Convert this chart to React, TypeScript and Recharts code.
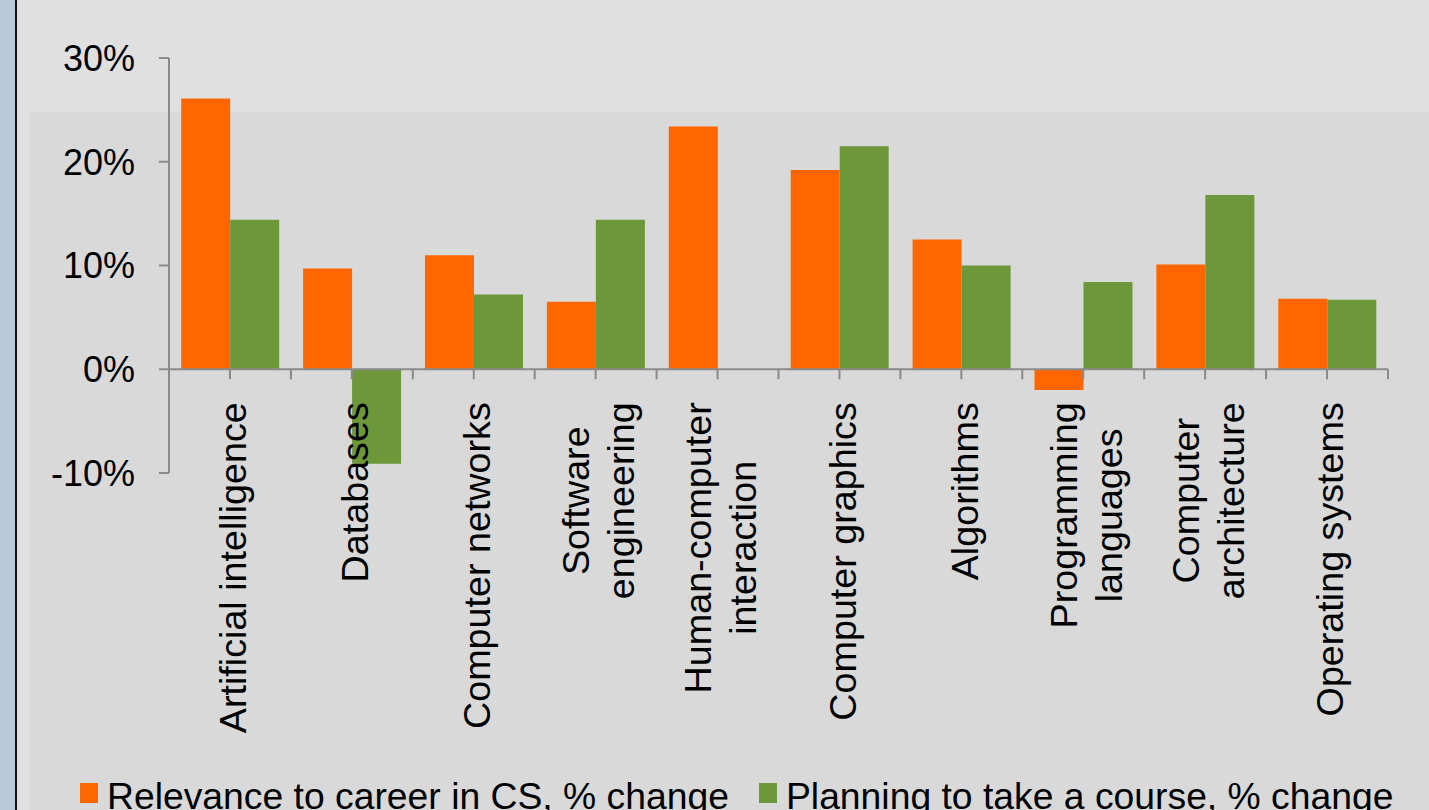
import { BarChart, Bar, XAxis, YAxis, ReferenceLine, Legend } from 'recharts'

const categories = [
  'Artificial intelligence',
  'Databases',
  'Computer networks',
  'Software\nengineering',
  'Human-computer\ninteraction',
  'Computer graphics',
  'Algorithms',
  'Programming\nlanguages',
  'Computer\narchitecture',
  'Operating systems',
]
const relevance = [26.1, 9.7, 11.0, 6.5, 23.4, 19.2, 12.5, -2.0, 10.1, 6.8]
const planning = [14.4, -9.1, 7.2, 14.4, null, 21.5, 10.0, 8.4, 16.8, 6.7]
const yTicks = [-10, 0, 10, 20, 30]
const seriesNames = ['Relevance to career in CS, % change', 'Planning to take a course, % change']

const COLORS = ['#ff6600', '#6c983a']
const AXIS = '#8a8a8a'
const FONT = '"Liberation Sans", Arial, sans-serif'

const W = 1429
const H = 810
const TOP = 58
const RIGHT = 41
const Y_W = 169
const PLOT_BOTTOM = 473
const X_H = 300
const PLOT_H = PLOT_BOTTOM - TOP
const PLOT_W = W - RIGHT - Y_W
const BAND = PLOT_W / categories.length
const ZERO_Y = TOP + PLOT_H * (30 / 40)
const LABEL_SIZE = 37.7
const LEGEND_SIZE = 37.3

const data = categories.map((c, i) => ({ name: c, relevance: relevance[i], planning: planning[i] }))

let ctx: CanvasRenderingContext2D | null = null
const measure = (s: string) => {
  if (!ctx) {
    ctx = document.createElement('canvas').getContext('2d')
    if (ctx) ctx.font = `${LABEL_SIZE}px "Liberation Sans"`
  }
  return ctx ? ctx.measureText(s).width : s.length * LABEL_SIZE * 0.5
}

const CategoryTick = (props: any) => {
  const { x, payload } = props
  const lines = String(payload.value).split('\n')
  const w = Math.max(...lines.map(measure))
  const top = ZERO_Y + 33
  return (
    <g>
      <line x1={x} x2={x} y1={ZERO_Y} y2={ZERO_Y + 10} stroke={AXIS} strokeWidth={2} />
      <line x1={x + BAND / 2} x2={x + BAND / 2} y1={ZERO_Y} y2={ZERO_Y + 10} stroke={AXIS} strokeWidth={2} />
      <text
        transform={`translate(${x + 3}, ${top}) rotate(-90)`}
        fontSize={LABEL_SIZE}
        fontFamily={FONT}
        fill="#000"
        textAnchor="middle"
      >
        {lines.map((l, i) => (
          <tspan key={i} x={-w / 2} y={(i - (lines.length - 1) / 2) * 45} dy="0.35em">
            {l}
          </tspan>
        ))}
      </text>
    </g>
  )
}

const LegendContent = () => (
  <div style={{ display: 'flex', fontFamily: FONT, fontSize: LEGEND_SIZE, lineHeight: '37px', color: '#000', whiteSpace: 'nowrap' }}>
    {seriesNames.map((n, i) => (
      <div key={n} style={{ display: 'flex', marginLeft: i ? 30 : 0 }}>
        <span style={{ width: 18, height: 20, background: COLORS[i], marginTop: 5, marginRight: 9 }} />
        <span>{n}</span>
      </div>
    ))}
  </div>
)

export default function App() {
  return (
    <div style={{ position: 'absolute', left: 0, top: 0, width: W, height: H, overflow: 'hidden', background: '#d9d9d9' }}>
      <div style={{ position: 'absolute', left: 0, top: 0, width: 15, height: H, background: '#b9c9d9' }} />
      <div style={{ position: 'absolute', left: 15, top: 0, width: 2, height: H, background: '#111' }} />
      <div style={{ position: 'absolute', left: 17, top: 0, width: 13, height: H, background: '#e0e0e0' }} />
      <div style={{ position: 'absolute', left: 30, top: 0, width: W - 30, height: 112, background: '#e0e0e0' }} />
      <div style={{ position: 'absolute', left: 0, top: 0 }}>
        <BarChart
          width={W}
          height={H}
          data={data}
          margin={{ top: TOP, right: RIGHT, left: 0, bottom: H - PLOT_BOTTOM - X_H }}
          barCategoryGap="10%"
          barGap={0}
          style={{ fontFamily: FONT }}
        >
          <XAxis
            dataKey="name"
            height={X_H}
            axisLine={false}
            tickLine={false}
            interval={0}
            tick={<CategoryTick />}
          />
          <YAxis
            width={Y_W}
            domain={[-10, 30]}
            ticks={yTicks}
            tickFormatter={(v: number) => `${v}%`}
            axisLine={{ stroke: AXIS, strokeWidth: 2 }}
            tickLine={{ stroke: AXIS, strokeWidth: 2 }}
            tickSize={10}
            tickMargin={24}
            tick={{ fill: '#000', fontSize: 36, fontFamily: FONT }}
          />
          <Bar dataKey="relevance" name={seriesNames[0]} fill={COLORS[0]} isAnimationActive={false} />
          <Bar dataKey="planning" name={seriesNames[1]} fill={COLORS[1]} isAnimationActive={false} />
          <ReferenceLine y={0} stroke={AXIS} strokeWidth={2} />
          <Legend
            layout="horizontal"
            verticalAlign="middle"
            align="center"
            content={<LegendContent />}
            wrapperStyle={{ left: 80, top: 778, right: 'auto', bottom: 'auto', width: 'auto', height: 'auto' }}
          />
        </BarChart>
      </div>
    </div>
  )
}
